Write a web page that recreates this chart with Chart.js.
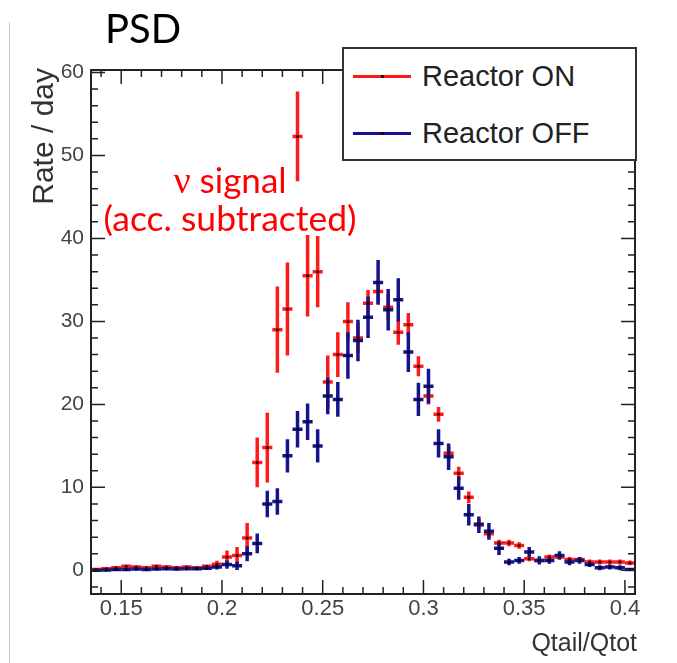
<!DOCTYPE html>
<html>
<head>
<meta charset="utf-8">
<script src="https://cdn.jsdelivr.net/npm/chart.js@4.4.1/dist/chart.umd.min.js"></script>
<style>
  html, body { margin: 0; padding: 0; background: #fff; }
  #wrap { position: relative; width: 677px; height: 663px; overflow: hidden; background: #fff; }
  #c { position: absolute; left: 0; top: 0; }
  .vline { position: absolute; left: 9px; top: 22px; width: 1px; height: 641px; background: #c8c8c8; }
  .title { position: absolute; left: 105px; top: 4px; font-family: Lato, "Open Sans", sans-serif; font-size: 40px; color: #000; line-height: 48px; }
  .ann { position: absolute; font-family: Lato, "Open Sans", sans-serif; color: #ff0000; white-space: nowrap; text-align: center; }
  .nu { font-family: "Liberation Serif", "DejaVu Serif", serif; font-size: 38px; }
  .legend { position: absolute; left: 342px; top: 47px; width: 291px; height: 110px; border: 2px solid #333; background: #fff; }
  .lg-row { position: absolute; left: 0; width: 100%; height: 30px; }
  .lg-line { position: absolute; left: 9px; top: 13px; width: 58px; height: 3px; }
  .lg-dot { position: absolute; left: 37px; top: 13px; width: 3px; height: 3px; background: #300; }
  .lg-text { position: absolute; left: 78px; top: -4px; font-family: "Liberation Sans", Arial, sans-serif; font-size: 29px; color: #222; white-space: nowrap; line-height: 36px; }
</style>
</head>
<body>
<div id="wrap">
  <canvas id="c" width="677" height="663"></canvas>
  <div class="vline"></div>
  <div class="title">PSD</div>
  <div class="ann" style="left:130px; top:159px; width:200px; font-size:35px; line-height:40px;"><span class="nu">ν</span> signal</div>
  <div class="ann" style="left:80px; top:198px; width:300px; font-size:35.5px; line-height:40px;">(acc. subtracted)</div>
  <div class="legend">
    <div class="lg-row" style="top:13px;"><div class="lg-line" style="background:#ff1a1a"></div><div class="lg-dot"></div><div class="lg-text">Reactor ON</div></div>
    <div class="lg-row" style="top:70px;"><div class="lg-line" style="background:#14148f"></div><div class="lg-dot"></div><div class="lg-text">Reactor OFF</div></div>
  </div>
</div>
<script>
// ---- data (bin centers of Qtail/Qtot, bin width 0.005) ----
const binCenters = [0.1375,0.1425,0.1475,0.1525,0.1575,0.1625,0.1675,0.1725,0.1775,0.1825,
  0.1875,0.1925,0.1975,0.2025,0.2075,0.2125,0.2175,0.2225,0.2275,0.2325,
  0.2375,0.2425,0.2475,0.2525,0.2575,0.2625,0.2675,0.2725,0.2775,0.2825,
  0.2875,0.2925,0.2975,0.3025,0.3075,0.3125,0.3175,0.3225,0.3275,0.3325,
  0.3375,0.3425,0.3475,0.3525,0.3575,0.3625,0.3675,0.3725,0.3775,0.3825,
  0.3875,0.3925,0.3975,0.4025];
const binHalfWidth = 0.0025;

const reactorOn = [0.1,0.2,0.3,0.5,0.4,0.3,0.5,0.4,0.3,0.4,
  0.3,0.5,0.75,1.6,1.8,3.9,13.0,14.8,29.0,31.5,
  52.3,35.5,36.0,22.7,26.0,30.0,28.0,32.2,33.6,31.7,
  28.7,29.6,24.6,21.0,18.8,14.1,11.7,8.8,5.6,4.4,
  3.3,3.3,3.0,1.4,1.2,1.6,1.6,1.3,1.3,1.0,
  1.0,1.0,1.0,0.9];
const reactorOnErr = [0.2,0.2,0.2,0.2,0.2,0.2,0.2,0.2,0.2,0.2,
  0.2,0.2,0.4,0.8,1.0,1.8,3.0,4.2,5.2,5.6,
  5.4,4.9,4.3,3.2,2.7,2.3,1.8,1.6,1.4,1.5,
  1.5,1.4,1.2,1.0,0.9,0.9,0.8,0.7,0.6,0.5,
  0.4,0.4,0.4,0.3,0.3,0.3,0.3,0.3,0.3,0.3,
  0.3,0.3,0.3,0.3];

const reactorOff = [0.0,0.05,0.1,0.1,0.15,0.1,0.15,0.2,0.15,0.2,
  0.2,0.25,0.4,0.7,0.55,2.0,3.25,8.0,8.3,13.8,
  17.0,17.9,15.0,21.0,20.6,25.9,27.7,30.5,34.7,31.4,
  32.6,26.3,20.6,22.2,15.3,13.7,9.9,6.7,5.5,4.7,
  2.65,1.0,1.2,2.2,1.2,1.2,1.8,1.0,1.2,0.7,
  0.3,0.4,0.3,0.1];
const reactorOffErr = [0.15,0.15,0.15,0.15,0.15,0.15,0.15,0.15,0.15,0.15,
  0.15,0.15,0.3,0.5,0.5,0.9,1.2,1.6,1.6,2.0,
  2.2,2.2,2.0,2.2,2.1,2.8,2.5,2.5,2.7,2.5,
  2.6,2.4,2.0,2.1,1.7,1.6,1.4,1.3,1.0,1.0,
  0.8,0.4,0.4,0.6,0.5,0.4,0.5,0.4,0.4,0.3,
  0.3,0.3,0.3,0.2];

const xTickLabels = ['0.15','0.2','0.25','0.3','0.35','0.4'];
const xMajorTicks = [0.15,0.2,0.25,0.3,0.35,0.4];
const xMinorTicks = [0.14,0.16,0.17,0.18,0.19,0.21,0.22,0.23,0.24,0.26,0.27,0.28,0.29,0.31,0.32,0.33,0.34,0.36,0.37,0.38,0.39];
const yTickLabels = ['0','10','20','30','40','50','60'];
const yMajorTicks = [0,10,20,30,40,50,60];
const yMinorTicks = [-2,2,4,6,8,12,14,16,18,22,24,26,28,32,34,36,38,42,44,46,48,52,54,56,58];

const xTitle = 'Qtail/Qtot';
const yTitle = 'Rate / day';

const RED = '#ff1a1a';
const BLUE = '#14148f';

function toPts(vals) { return binCenters.map((x, i) => ({ x: x, y: vals[i] })); }

const errPlugin = {
  id: 'rootStyle',
  beforeDatasetsDraw(chart) {
    const ctx = chart.ctx, xs = chart.scales.x, ys = chart.scales.y, a = chart.chartArea;
    ctx.save();
    ctx.beginPath();
    ctx.rect(a.left, a.top, a.right - a.left, a.bottom - a.top);
    ctx.clip();
    chart.data.datasets.forEach(ds => {
      ctx.strokeStyle = ds.errColor;
      ctx.lineWidth = 3.5;
      ctx.lineCap = 'butt';
      ds.data.forEach((p, i) => {
        const e = ds.errors[i];
        const px = xs.getPixelForValue(p.x);
        const py = ys.getPixelForValue(p.y);
        ctx.beginPath();
        ctx.moveTo(xs.getPixelForValue(p.x - binHalfWidth), py);
        ctx.lineTo(xs.getPixelForValue(p.x + binHalfWidth), py);
        ctx.moveTo(px, ys.getPixelForValue(p.y - e));
        ctx.lineTo(px, ys.getPixelForValue(p.y + e));
        ctx.stroke();
      });
    });
    ctx.restore();
  },
  afterDraw(chart) {
    const ctx = chart.ctx, xs = chart.scales.x, ys = chart.scales.y, a = chart.chartArea;
    ctx.save();
    ctx.strokeStyle = '#222';
    ctx.lineWidth = 2;
    ctx.strokeRect(a.left, a.top, a.right - a.left, a.bottom - a.top);
    ctx.lineWidth = 1.5;
    ctx.beginPath();
    xMajorTicks.forEach(v => {
      const px = xs.getPixelForValue(v);
      ctx.moveTo(px, a.bottom); ctx.lineTo(px, a.bottom - 14);
      ctx.moveTo(px, a.top); ctx.lineTo(px, a.top + 14);
    });
    xMinorTicks.forEach(v => {
      const px = xs.getPixelForValue(v);
      ctx.moveTo(px, a.bottom); ctx.lineTo(px, a.bottom - 7);
      ctx.moveTo(px, a.top); ctx.lineTo(px, a.top + 7);
    });
    yMajorTicks.forEach(v => {
      const py = ys.getPixelForValue(v);
      ctx.moveTo(a.left, py); ctx.lineTo(a.left + 14, py);
      ctx.moveTo(a.right, py); ctx.lineTo(a.right - 14, py);
    });
    yMinorTicks.forEach(v => {
      const py = ys.getPixelForValue(v);
      ctx.moveTo(a.left, py); ctx.lineTo(a.left + 7, py);
      ctx.moveTo(a.right, py); ctx.lineTo(a.right - 7, py);
    });
    ctx.stroke();

    ctx.fillStyle = '#444';
    ctx.font = '22px "Liberation Sans", Arial, sans-serif';
    ctx.textAlign = 'center';
    ctx.textBaseline = 'middle';
    xMajorTicks.forEach((v, i) => {
      ctx.fillText(xTickLabels[i], xs.getPixelForValue(v), a.bottom + 15);
    });
    ctx.textAlign = 'right';
    ctx.font = '21px "Liberation Sans", Arial, sans-serif';
    yMajorTicks.forEach((v, i) => {
      ctx.fillText(yTickLabels[i], a.left - 7, ys.getPixelForValue(v));
    });

    ctx.fillStyle = '#333';
    ctx.font = '25px "Liberation Sans", Arial, sans-serif';
    ctx.textAlign = 'right';
    ctx.textBaseline = 'alphabetic';
    ctx.fillText(xTitle, a.right + 2, 651);

    ctx.save();
    ctx.translate(53, a.top - 2);
    ctx.rotate(-Math.PI / 2);
    ctx.font = '30px "Liberation Sans", Arial, sans-serif';
    ctx.textAlign = 'right';
    ctx.fillText(yTitle, 0, 0);
    ctx.restore();
    ctx.restore();
  }
};

new Chart(document.getElementById('c'), {
  type: 'scatter',
  data: {
    datasets: [
      { label: 'Reactor ON', data: toPts(reactorOn), errors: reactorOnErr, errColor: RED,
        pointRadius: 1.5, pointBackgroundColor: '#300', pointBorderWidth: 0, showLine: false },
      { label: 'Reactor OFF', data: toPts(reactorOff), errors: reactorOffErr, errColor: BLUE,
        pointRadius: 1.5, pointBackgroundColor: '#001', pointBorderWidth: 0, showLine: false }
    ]
  },
  options: {
    responsive: false,
    animation: false,
    layout: { padding: { left: 91, top: 70, right: 42, bottom: 69 } },
    plugins: { legend: { display: false }, tooltip: { enabled: false } },
    scales: {
      x: { type: 'linear', min: 0.135, max: 0.405, display: false },
      y: { type: 'linear', min: -2.85, max: 60.3, display: false }
    }
  },
  plugins: [errPlugin]
});
</script>
</body>
</html>
